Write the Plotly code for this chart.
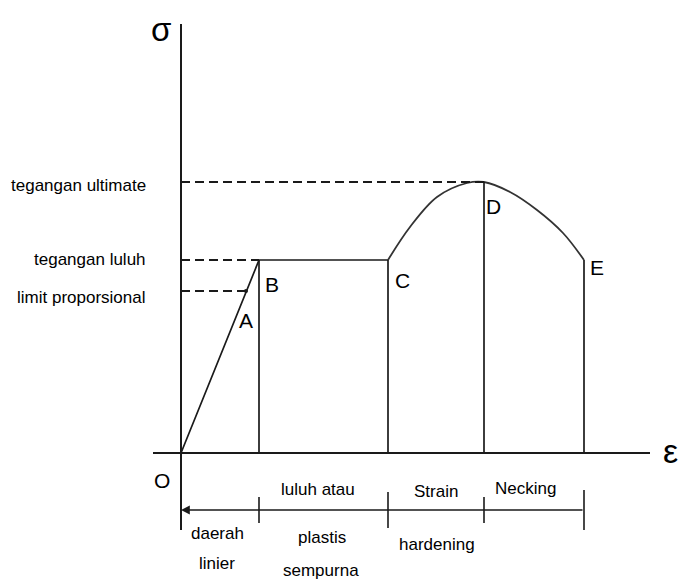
"""Stress-strain diagram (diagram tegangan-regangan) drawn with Plotly shapes and traces."""
import plotly.graph_objects as go

# --- data ---------------------------------------------------------------
point_labels = ["O", "A", "B", "C", "D", "E"]
strain = [0.0, 0.65, 0.78, 2.07, 3.03, 4.03]
stress = [0.0, 1.62, 1.93, 1.93, 2.71, 1.93]

# strain hardening + necking arc C -> D -> E
curve_strain = [2.07, 2.29, 2.56, 2.86, 3.03, 3.29, 3.56, 3.82, 4.03]
curve_stress = [1.93, 2.26, 2.56, 2.70, 2.71, 2.61, 2.43, 2.20, 1.93]

stress_labels = ["tegangan ultimate", "tegangan luluh", "limit proporsional"]
stress_levels = [2.71, 1.93, 1.62]
stress_level_ends = [3.03, 0.78, 0.65]

region_edges = [0.0, 0.78, 2.07, 3.03, 4.03]
region_top = ["luluh atau", "Strain", "Necking"]
region_bottom = ["daerah", "linier", "plastis", "sempurna", "hardening"]

FONT = "Liberation Sans, Arial, sans-serif"
INK = "#1a1a1a"

fig = go.Figure()

# elastic line O-A-B, yield plateau B-C
fig.add_trace(go.Scatter(x=strain[:4], y=stress[:4], mode="lines",
                         line=dict(color=INK, width=1.7), hoverinfo="skip"))
fig.add_trace(go.Scatter(x=curve_strain, y=curve_stress, mode="lines",
                         line=dict(color="#333", width=1.8, shape="spline"),
                         hoverinfo="skip"))
# proportional limit dot
fig.add_trace(go.Scatter(x=[strain[1]], y=[stress[1]], mode="markers",
                         marker=dict(color=INK, size=4), hoverinfo="skip"))

# verticals from B, C, D, E down to the strain axis
for i in (2, 3, 4, 5):
    fig.add_shape(type="line", x0=strain[i], x1=strain[i], y0=0, y1=stress[i],
                  line=dict(color=INK, width=1.7))

# dashed reference levels to the stress axis
for lvl, end in zip(stress_levels, stress_level_ends):
    fig.add_shape(type="line", x0=0, x1=end, y0=lvl, y1=lvl,
                  line=dict(color=INK, width=1.8, dash="9px,5px"))

# axes
fig.add_shape(type="line", x0=0, x1=0, y0=-0.77, y1=4.29, line=dict(color=INK, width=2))
fig.add_shape(type="line", x0=-0.28, x1=4.69, y0=0, y1=0, line=dict(color=INK, width=2))

# region bracket below the axis
fig.add_annotation(x=region_edges[0], y=-0.57, ax=region_edges[-1], ay=-0.57,
                   xref="x", yref="y", axref="x", ayref="y", text="",
                   showarrow=True, arrowhead=2, arrowsize=1.1, arrowwidth=1.6,
                   arrowcolor=INK)
tick_half = [0.13, 0.18, 0.13, 0.2]
for edge, h in zip(region_edges[1:], tick_half):
    fig.add_shape(type="line", x0=edge, x1=edge, y0=-0.57 - h, y1=-0.57 + h,
                  line=dict(color=INK, width=1.6))

txt = dict(family=FONT, size=17, color="black")
big = dict(family=FONT, size=21, color="black")

for lab, ly in zip(stress_labels, [2.68, 1.94, 1.56]):
    fig.add_annotation(x=-0.33, y=ly, text=lab, showarrow=False, xanchor="right", font=txt)

# point letters
offsets = {"O": (-0.19, -0.27), "A": (0.0, -0.29), "B": (0.13, -0.24),
           "C": (0.14, -0.2), "D": (0.09, -0.24), "E": (0.13, -0.07)}
for lab, sx, sy in zip(point_labels, strain, stress):
    dx, dy = offsets[lab]
    fig.add_annotation(x=sx + dx, y=sy + dy, text=lab, showarrow=False, font=big)

# region names
for lab, px, py in zip(region_top, [1.37, 2.55, 3.44], [-0.36, -0.38, -0.35]):
    fig.add_annotation(x=px, y=py, text=lab, showarrow=False, font=txt)
for lab, px, py in zip(region_bottom, [0.36, 0.36, 1.41, 1.40, 2.56],
                       [-0.80, -1.10, -0.84, -1.17, -0.91]):
    fig.add_annotation(x=px, y=py, text=lab, showarrow=False, font=txt)

# axis symbols
fig.add_annotation(x=-0.2, y=4.24, text="σ", showarrow=False,
                   font=dict(family=FONT, size=33, color="black"))
fig.add_annotation(x=4.89, y=0.02, text="ε", showarrow=False,
                   font=dict(family=FONT, size=34, color="black"))

# page body has an 8px margin: the figure spans window pixels 8..690 x 8..586
fig.update_xaxes(range=[-1.73, 5.09], visible=False)
fig.update_yaxes(range=[-1.33, 4.45], visible=False)
fig.update_layout(width=682, height=578, margin=dict(l=0, r=0, t=0, b=0),
                  plot_bgcolor="white", paper_bgcolor="white", showlegend=False)

fig.write_html("out.html")
